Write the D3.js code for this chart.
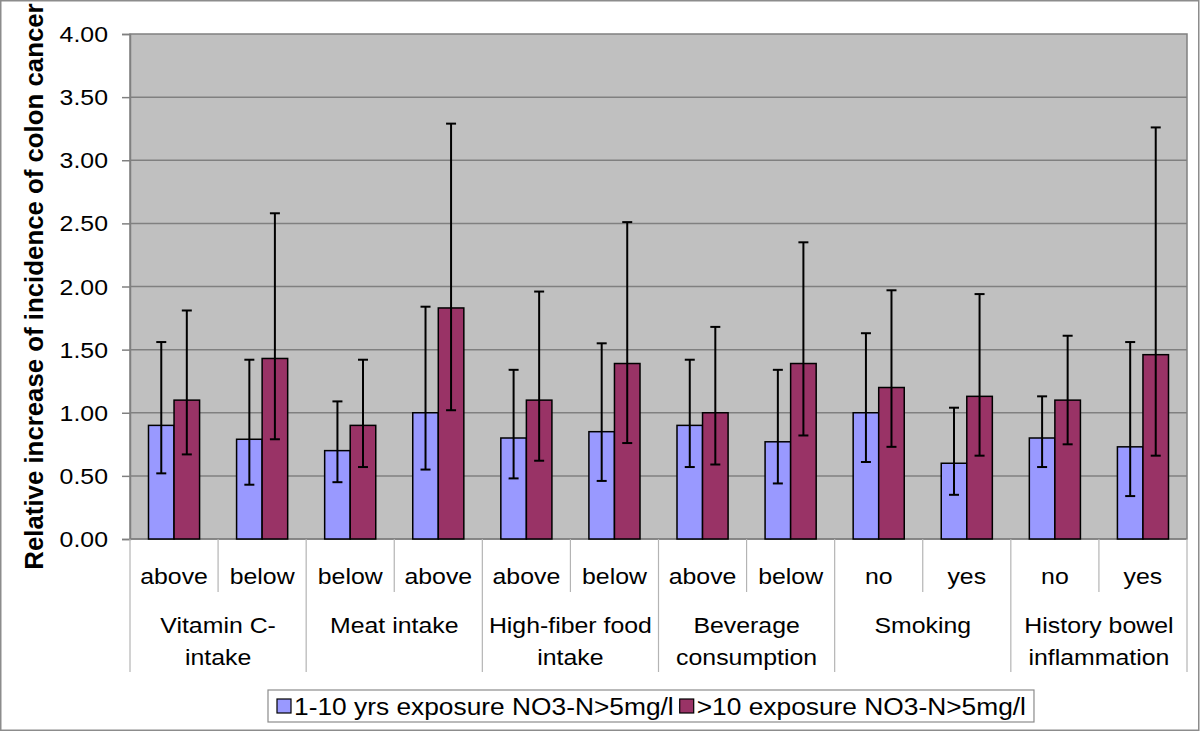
<!DOCTYPE html>
<html>
<head>
<meta charset="utf-8">
<script src="https://cdn.jsdelivr.net/npm/d3@7"></script>
<style>
  html, body { margin: 0; padding: 0; background: #fff; }
  svg { display: block; font-family: "Liberation Sans", Arial, sans-serif; }
</style>
</head>
<body>
<svg id="chart" width="1200" height="732"></svg>
<script>
// ---- data ----
const categories = ["above","below","below","above","above","below","above","below","no","yes","no","yes"];
const groupLabels = [["Vitamin C-","intake"],["Meat intake"],["High-fiber food","intake"],["Beverage","consumption"],["Smoking"],["History bowel","inflammation"]];
const seriesNames = ["1-10 yrs exposure NO3-N>5mg/l", ">10 exposure NO3-N>5mg/l"];
const valuesShort = [0.90,0.79,0.70,1.00,0.80,0.85,0.90,0.77,1.00,0.60,0.80,0.73];
const lowShort    = [0.52,0.43,0.45,0.55,0.48,0.46,0.57,0.44,0.61,0.35,0.57,0.34];
const highShort   = [1.56,1.42,1.09,1.84,1.34,1.55,1.42,1.34,1.63,1.04,1.13,1.56];
const valuesLong  = [1.10,1.43,0.90,1.83,1.10,1.39,1.00,1.39,1.20,1.13,1.10,1.46];
const lowLong     = [0.67,0.79,0.57,1.02,0.62,0.76,0.59,0.82,0.73,0.66,0.75,0.66];
const highLong    = [1.81,2.58,1.42,3.29,1.96,2.51,1.68,2.35,1.97,1.94,1.61,3.26];
const yTicks = [0,0.5,1,1.5,2,2.5,3,3.5,4];
const yTitle = "Relative increase of incidence of colon cancer";
const colors = ["#9999ff","#993366"];

(function draw() {
// ---- layout ----
const svg = d3.select("#chart");
const pLeft = 130, pRight = 1187, pTop = 34, pBottom = 539;
const SX = 1.13; // horizontal text stretch

const x0 = d3.scaleBand().domain(d3.range(categories.length)).range([pLeft, pRight]).padding(0);
const x1 = d3.scaleBand().domain([0,1]).range([0, x0.bandwidth()*0.58]);
const innerOff = (x0.bandwidth() - x0.bandwidth()*0.58)/2;
const y = d3.scaleLinear().domain([0,4]).range([pBottom, pTop]);

function htext(g, x, yy, txt, opts) {
  opts = opts || {};
  return g.append("text")
    .attr("transform", `translate(${x},${yy}) scale(${SX},1)`)
    .attr("text-anchor", opts.anchor || "middle")
    .attr("font-size", opts.size || 22)
    .attr("fill", "#000")
    .text(txt);
}

// outer border
svg.append("rect").attr("x",0.75).attr("y",0.75).attr("width",1198).attr("height",729.5)
  .attr("fill","none").attr("stroke","#8c8c8c").attr("stroke-width",1.5);

// plot background
svg.append("rect").attr("x",pLeft).attr("y",pTop).attr("width",pRight-pLeft).attr("height",pBottom-pTop)
  .attr("fill","#c0c0c0").attr("stroke","#808080").attr("stroke-width",1.5);

// gridlines
svg.append("g").selectAll("line").data(yTicks.filter(t => t>0 && t<4)).join("line")
  .attr("x1",pLeft).attr("x2",pRight).attr("y1",d=>y(d)).attr("y2",d=>y(d))
  .attr("stroke","#808080").attr("stroke-width",1.5);

// y axis
const yAxis = svg.append("g").attr("transform",`translate(${pLeft},0)`)
  .call(d3.axisLeft(y).tickValues(yTicks).tickSize(8).tickFormat(() => ""));
yAxis.selectAll("path,line").attr("stroke","#808080").attr("stroke-width",1.5);
const yl = svg.append("g");
yTicks.forEach(t => {
  htext(yl, 108, y(t)+8, d3.format(".2f")(t), {anchor:"end", size:22});
});

// y title
svg.append("text")
  .attr("transform", `translate(43,${(pTop+pBottom)/2}) rotate(-90)`)
  .attr("text-anchor","middle").attr("font-size",25.8).attr("font-weight","bold")
  .text(yTitle);

// category axis lines
const cat = svg.append("g");
cat.append("line").attr("x1",pLeft).attr("x2",pRight).attr("y1",pBottom).attr("y2",pBottom)
  .attr("stroke","#808080").attr("stroke-width",1.5);
for (let i = 0; i <= categories.length; i++) {
  const xx = i === categories.length ? pRight : x0(i);
  const isLong = i % 2 === 0;
  cat.append("line").attr("x1",xx).attr("x2",xx).attr("y1",pBottom).attr("y2", isLong ? 672 : 592)
    .attr("stroke","#b4b4b4").attr("stroke-width",1.2);
}
categories.forEach((c,i) => {
  htext(cat, x0(i) + x0.bandwidth()/2, 584, c, {size:22});
});
groupLabels.forEach((lines,g) => {
  const cx = x0(g*2) + x0.bandwidth();
  lines.forEach((ln,k) => htext(cat, cx, 633 + k*32, ln, {size:22}));
});

// bars
const data = categories.map((c,i) => [
  {s:0, i, v:valuesShort[i], lo:lowShort[i], hi:highShort[i]},
  {s:1, i, v:valuesLong[i], lo:lowLong[i], hi:highLong[i]}
]).flat();
const bars = svg.append("g");
bars.selectAll("rect").data(data).join("rect")
  .attr("x", d => x0(d.i) + innerOff + x1(d.s))
  .attr("y", d => y(d.v))
  .attr("width", x1.bandwidth())
  .attr("height", d => y(0) - y(d.v))
  .attr("fill", d => colors[d.s])
  .attr("stroke","#000").attr("stroke-width",1.5);

// error bars
const eb = svg.append("g").attr("stroke","#000").attr("stroke-width",2);
data.forEach(d => {
  const cx = x0(d.i) + innerOff + x1(d.s) + x1.bandwidth()/2;
  eb.append("line").attr("x1",cx).attr("x2",cx).attr("y1",y(d.hi)).attr("y2",y(d.lo));
  [d.hi, d.lo].forEach(v => eb.append("line").attr("x1",cx-5).attr("x2",cx+5).attr("y1",y(v)).attr("y2",y(v)));
});

// legend
const lg = svg.append("g");
const bx = 268;
const box = lg.append("rect").attr("y",690).attr("height",32).attr("x",bx)
  .attr("fill","#fff").attr("stroke","#8c8c8c").attr("stroke-width",1.2);
let lx = bx + 9;
seriesNames.forEach((n,k) => {
  lg.append("rect").attr("x",lx).attr("y",699).attr("width",14).attr("height",14)
    .attr("fill",colors[k]).attr("stroke","#000").attr("stroke-width",1.2);
  const t = htext(lg, lx+17, 715, n, {anchor:"start", size:23.3});
  const w = t.node().getComputedTextLength()*SX;
  lx = lx + 17 + w + 6;
});
box.attr("width", lx - bx + 2);
})();
</script>
</body>
</html>
